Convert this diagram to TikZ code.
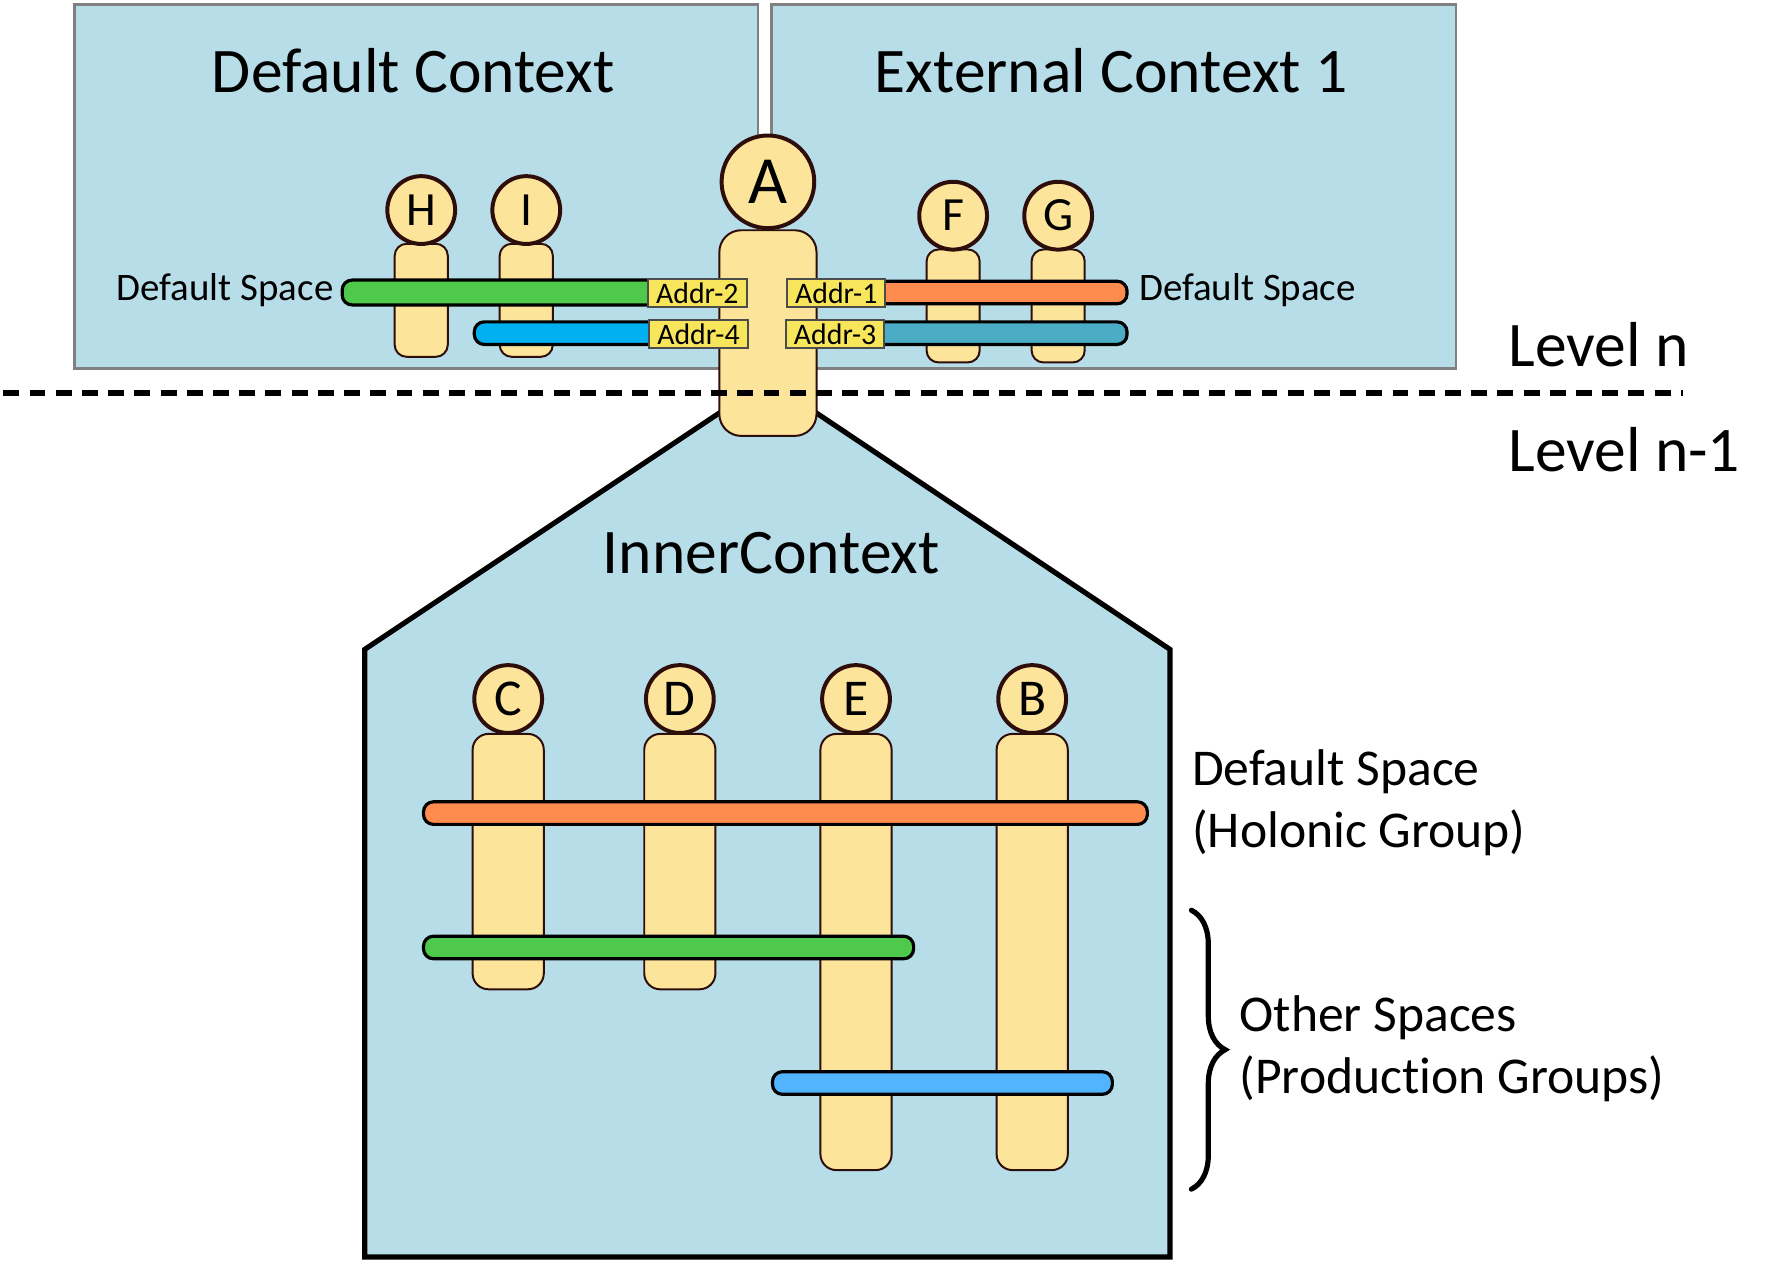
\documentclass[tikz,border=0pt]{standalone}
\usepackage{fontspec}
\setmainfont{Carlito}[Ligatures={NoCommon,NoRare,NoContextual}]
\usetikzlibrary{decorations.pathreplacing}
\definecolor{ctxfill}{HTML}{B7DDE8}
\definecolor{agentfill}{HTML}{FDE49B}
\definecolor{agentline}{HTML}{2E0E0A}
\definecolor{addrfill}{HTML}{F7E55B}
\definecolor{spgreen}{HTML}{4FC94C}
\definecolor{spblue}{HTML}{00B0F0}
\definecolor{sporange}{HTML}{FF8C4F}
\definecolor{spteal}{HTML}{4BACC6}
\definecolor{spsky}{HTML}{52B4FF}

\begin{document}
\begin{tikzpicture}[x=0.01cm, y=-0.01cm,
  ctx/.style = {draw=gray, fill=ctxfill, line width=0.6pt, inner sep=0pt, anchor=north west},
  agenthead/.style = {draw=agentline, fill=agentfill, circle, line width=1pt, inner sep=0pt, minimum size=0.6cm, font=\fontsize{12}{12}\selectfont},
  agentbody/.style = {draw=agentline, fill=agentfill, line width=0.5pt, rounded corners=3pt, inner sep=0pt, anchor=north},
  spacebar/.style = {draw=black, line width=0.8pt, rounded corners=2.5pt},
  addr/.style = {draw=black!70, fill=addrfill, line width=0.5pt, inner sep=0pt, minimum width=0.87cm, minimum height=0.25cm, font=\fontsize{7.5}{7.5}\selectfont},
  ctxtitle/.style = {font=\fontsize{16}{16}\selectfont},
  spacetext/.style = {font=\fontsize{13}{15.6}\selectfont, align=left, anchor=west, inner sep=0pt}
]
\useasboundingbox (0,0) rectangle (1570,1118);

% level n: the two outer contexts
\node[ctx, minimum width=6.05cm, minimum height=3.22cm] (defctx) at (65,3) {};
\node[ctx, minimum width=6.06cm, minimum height=3.22cm] (extctx) at (682,3) {};
\node[ctxtitle] (deftitle) at (366,63) {Default Context};
\node[ctxtitle] (exttitle) at (984,63) {External Context 1};

% level n-1: the inner context
\draw[fill=ctxfill, line width=1.3pt] (323,1113) -- (323,575) -- (680,337) -- (1036,575) -- (1036,1113) -- cycle;
\node[ctxtitle] (innertitle) at (683,490) {InnerContext};

% agents of the outer contexts
\foreach \n/\x/\y in {H/373/186, I/466/186, F/844/191, G/937/191} {
  \node[agentbody, minimum width=0.47cm, minimum height=1cm] (\n body) at (\x,\y+29) {};
  \node[agenthead] (\n) at (\x,\y) {\n};
}
\node[agentbody, minimum width=0.86cm, minimum height=1.82cm, rounded corners=5.5pt] (Abody) at (680,203) {};
\node[agenthead, minimum size=0.82cm, font=\fontsize{17}{17}\selectfont] (A) at (680,161) {A};

% spaces of the outer contexts
\draw[spacebar, fill=spgreen] (303,248) rectangle (650,270);
\draw[spacebar, fill=spblue] (420,285) rectangle (650,305);
\draw[spacebar, fill=sporange] (710,249) rectangle (998,269);
\draw[spacebar, fill=spteal] (710,285) rectangle (998,305);
\node[addr] (addr2) at (617.5,259.5) {Addr-2};
\node[addr] (addr4) at (618.5,296) {Addr-4};
\node[addr] (addr1) at (740.5,259.5) {Addr-1};
\node[addr] (addr3) at (739.5,296) {Addr-3};
\node[anchor=east, inner sep=0pt, font=\fontsize{9.8}{10}\selectfont] (defspL) at (296,257) {Default Space};
\node[anchor=west, inner sep=0pt, font=\fontsize{9.8}{10}\selectfont] (defspR) at (1008,257) {Default Space};

% level separator
\draw[line width=1.4pt, dash pattern=on 4pt off 2.6pt] (3,348) -- (1490,348);
\node[ctxtitle, anchor=west, inner sep=0pt] (leveln) at (1335,305) {Level n};
\node[ctxtitle, anchor=west, inner sep=0pt] (levelm) at (1335,398) {Level n-1};

% agents of the inner context
\foreach \n/\x/\len in {C/450/2.26, D/602/2.26, E/758/3.86, B/914/3.86} {
  \node[agentbody, minimum width=0.63cm, minimum height=\len cm, rounded corners=4pt] (\n body) at (\x,649) {};
  \node[agenthead, font=\fontsize{13}{13}\selectfont] (\n) at (\x,619) {\n};
}

% spaces of the inner context
\draw[spacebar, fill=sporange] (375,710) rectangle (1016,730);
\draw[spacebar, fill=spgreen] (375,829) rectangle (809,849);
\draw[spacebar, fill=spsky] (684,949) rectangle (985,969);

\node[spacetext] (holonic) at (1055,711) {Default Space\\(Holonic Group)};
\node[spacetext] (production) at (1097,929) {Other Spaces\\(Production Groups)};
\draw[line width=1.3pt, line cap=round, decorate, decoration={brace, amplitude=8.5pt}] (1055,806) -- (1055,1053);
\end{tikzpicture}
\end{document}
